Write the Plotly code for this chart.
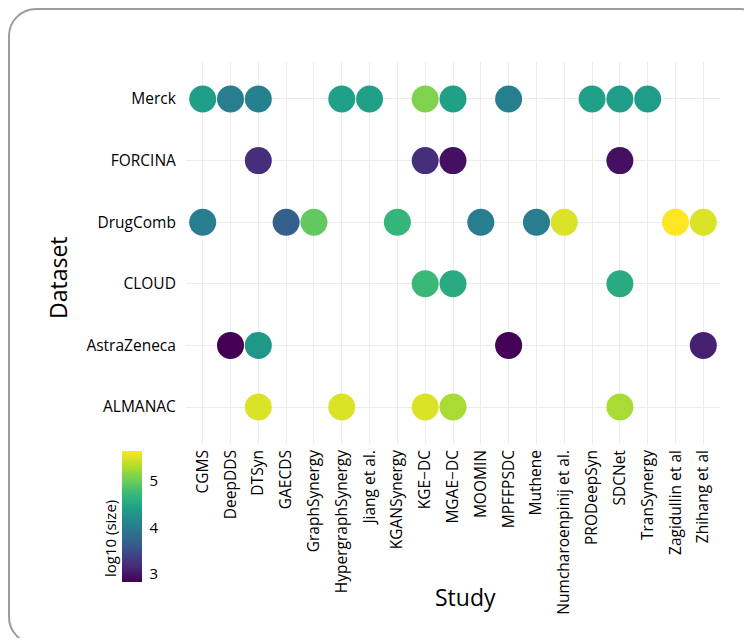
import plotly.graph_objects as go

studies = ["CGMS", "DeepDDS", "DTSyn", "GAECDS", "GraphSynergy", "HypergraphSynergy",
           "Jiang et al.", "KGANSynergy", "KGE−DC", "MGAE−DC", "MOOMIN", "MPFFPSDC",
           "Muthene", "Numcharoenpinij et al.", "PRODeepSyn", "SDCNet", "TranSynergy",
           "Zagidullin et al", "Zhihang et al"]
datasets = ["ALMANAC", "AstraZeneca", "CLOUD", "DrugComb", "FORCINA", "Merck"]

merck_studies = ["CGMS", "DeepDDS", "DTSyn", "HypergraphSynergy", "Jiang et al.", "KGE−DC",
                 "MGAE−DC", "MPFFPSDC", "PRODeepSyn", "SDCNet", "TranSynergy"]
merck_vals = [4.40, 4.02, 4.07, 4.42, 4.42, 5.10, 4.42, 4.05, 4.42, 4.38, 4.38]
forcina_studies = ["DTSyn", "KGE−DC", "MGAE−DC", "SDCNet"]
forcina_vals = [3.20, 3.20, 2.95, 2.95]
drugcomb_studies = ["CGMS", "GAECDS", "GraphSynergy", "KGANSynergy", "MOOMIN", "Muthene",
                    "Numcharoenpinij et al.", "Zagidullin et al", "Zhihang et al"]
drugcomb_vals = [4.02, 3.68, 4.95, 4.70, 4.02, 4.02, 5.50, 5.65, 5.50]
cloud_studies = ["KGE−DC", "MGAE−DC", "SDCNet"]
cloud_vals = [4.73, 4.55, 4.55]
astra_studies = ["DeepDDS", "DTSyn", "MPFFPSDC", "Zhihang et al"]
astra_vals = [2.83, 4.32, 2.85, 3.08]
almanac_studies = ["DTSyn", "HypergraphSynergy", "KGE−DC", "MGAE−DC", "SDCNet"]
almanac_vals = [5.50, 5.50, 5.50, 5.28, 5.28]

groups = [("Merck", merck_studies, merck_vals),
          ("FORCINA", forcina_studies, forcina_vals),
          ("DrugComb", drugcomb_studies, drugcomb_vals),
          ("CLOUD", cloud_studies, cloud_vals),
          ("AstraZeneca", astra_studies, astra_vals),
          ("ALMANAC", almanac_studies, almanac_vals)]

xs, ys, cs = [], [], []
for ds, st, vals in groups:
    xs += st
    ys += [ds] * len(st)
    cs += vals

W, H = 752, 638
OFF = 8  # page offset of the figure (body margin)
# plot area in page pixels
PL, PT, PR, PB = 186, 62, 720, 444
L, T = PL - OFF, PT - OFF
R, B = W - (PR - OFF), H - (PB - OFF)
PW, PH = PR - PL, PB - PT


def px(x):
    return (x - PL) / PW


def py(y):
    return (PB - y) / PH


FONT = "Open Sans"

fig = go.Figure()
fig.add_trace(go.Scatter(
    x=xs, y=ys, mode="markers",
    marker=dict(size=27, color=cs, colorscale="Viridis", line=dict(width=0),
                showscale=True,
                colorbar=dict(thickness=20, len=131, lenmode="pixels",
                              x=px(122), xanchor="left",
                              y=py(516.5), yanchor="middle",
                              tickvals=[3, 4, 5], ticks="outside", ticklen=5,
                              tickcolor="rgba(0,0,0,0)", outlinewidth=0,
                              tickfont=dict(size=15, color="black", family=FONT),
                              xpad=0, ypad=0)),
    hoverinfo="x+y",
))

# rounded border (page px)
x0, y0, x1, y1, r = OFF + 1, OFF + 1, 767, 644, 27
k = 0.5523 * r
path = (f"M {px(x0 + r)},{py(y0)} L {px(x1 - r)},{py(y0)} "
        f"C {px(x1 - r + k)},{py(y0)} {px(x1)},{py(y0 + r - k)} {px(x1)},{py(y0 + r)} "
        f"L {px(x1)},{py(y1 - r)} "
        f"C {px(x1)},{py(y1 - r + k)} {px(x1 - r + k)},{py(y1)} {px(x1 - r)},{py(y1)} "
        f"L {px(x0 + r)},{py(y1)} "
        f"C {px(x0 + r - k)},{py(y1)} {px(x0)},{py(y1 - r + k)} {px(x0)},{py(y1 - r)} "
        f"L {px(x0)},{py(y0 + r)} "
        f"C {px(x0)},{py(y0 + r - k)} {px(x0 + r - k)},{py(y0)} {px(x0 + r)},{py(y0)} Z")
fig.add_shape(type="path", path=path, xref="paper", yref="paper",
              line=dict(color="#9c9c9c", width=2), layer="below")

fig.add_annotation(text="Study", x=px(465), y=py(597), xref="paper", yref="paper",
                   showarrow=False, font=dict(size=23, color="black", family=FONT),
                   xanchor="center", yanchor="middle")
fig.add_annotation(text="Dataset", x=px(58), y=py(278), xref="paper", yref="paper",
                   showarrow=False, textangle=-90,
                   font=dict(size=23, color="black", family=FONT),
                   xanchor="center", yanchor="middle")
fig.add_annotation(text="log10 (size)", x=px(110), y=py(539), xref="paper", yref="paper",
                   showarrow=False, textangle=-90,
                   font=dict(size=15, color="black", family=FONT),
                   xanchor="center", yanchor="middle")

fig.update_layout(
    width=W, height=H,
    margin=dict(l=L, r=R, t=T, b=B, autoexpand=False),
    paper_bgcolor="white", plot_bgcolor="white",
    showlegend=False,
    font=dict(family=FONT, color="black"),
)
fig.update_xaxes(type="category", categoryorder="array", categoryarray=studies,
                 range=[-0.6, len(studies) - 0.4], tickangle=-90,
                 showgrid=True, gridcolor="#ebebeb", gridwidth=1,
                 zeroline=False, showline=False, ticks="", ticklabelstandoff=2,
                 tickfont=dict(size=15.5, color="black", family=FONT), automargin=False)
fig.update_yaxes(type="category", categoryorder="array", categoryarray=datasets,
                 range=[-0.6, len(datasets) - 0.4],
                 showgrid=True, gridcolor="#ebebeb", gridwidth=1,
                 zeroline=False, showline=False, ticks="outside", ticklen=6,
                 tickcolor="rgba(0,0,0,0)",
                 tickfont=dict(size=15.5, color="black", family=FONT), automargin=False)

fig.write_html("out.html")
